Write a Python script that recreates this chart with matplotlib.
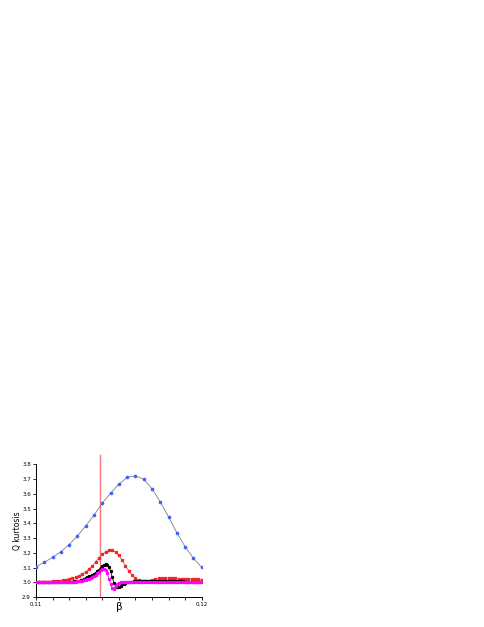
import numpy as np
import matplotlib.pyplot as plt
from matplotlib.ticker import MultipleLocator

# beta grids
beta_blue = np.linspace(0.110, 0.120, 21)
beta_red = np.linspace(0.110, 0.120, 51)
beta_fine = np.linspace(0.110, 0.120, 101)

blue = [3.105, 3.135, 3.169, 3.207, 3.255, 3.314, 3.381, 3.456, 3.537, 3.603,
        3.666, 3.711, 3.722, 3.698, 3.634, 3.546, 3.444, 3.336, 3.241, 3.162,
        3.101]

red = [3.002, 3.003, 3.003, 3.004, 3.005, 3.006, 3.008, 3.011, 3.014, 3.018,
       3.022, 3.028, 3.035, 3.044, 3.056, 3.071, 3.089, 3.111, 3.138, 3.166,
       3.190, 3.207, 3.217, 3.217, 3.204, 3.182, 3.150, 3.112, 3.077, 3.048,
       3.027, 3.013, 3.007, 3.006, 3.009, 3.015, 3.021, 3.026, 3.028, 3.029,
       3.028, 3.027, 3.026, 3.025, 3.024, 3.023, 3.022, 3.021, 3.020, 3.019,
       3.018]

black = [3.000, 3.000, 3.000, 3.000, 3.000, 3.001, 3.001, 3.001, 3.001, 3.001,
         3.001, 3.001, 3.001, 3.002, 3.002, 3.002, 3.002, 3.003, 3.003, 3.003,
         3.004, 3.004, 3.005, 3.006, 3.007, 3.008, 3.010, 3.013, 3.017, 3.022,
         3.028, 3.034, 3.040, 3.045, 3.051, 3.058, 3.065, 3.074, 3.086, 3.097,
         3.110, 3.118, 3.122, 3.117, 3.104, 3.075, 3.035, 2.995, 2.973, 2.966,
         2.967, 2.975, 2.985, 2.991, 2.995, 2.999, 3.002, 3.004, 3.005, 3.006,
         3.007, 3.007, 3.007, 3.007, 3.007, 3.007, 3.008, 3.008, 3.008, 3.008,
         3.008, 3.008, 3.008, 3.008, 3.007, 3.007, 3.007, 3.007, 3.007, 3.006,
         3.006, 3.006, 3.006, 3.006, 3.006, 3.006, 3.006, 3.006, 3.006, 3.006,
         3.005, 3.005, 3.005, 3.005, 3.005, 3.005, 3.005, 3.005, 3.005, 3.005,
         3.005]

magenta = [3.000, 3.000, 3.000, 3.000, 3.000, 3.000, 3.000, 3.000, 3.000, 3.000,
           3.000, 3.000, 3.000, 3.000, 3.001, 3.001, 3.001, 3.001, 3.002, 3.002,
           3.002, 3.003, 3.003, 3.004, 3.005, 3.006, 3.007, 3.009, 3.011, 3.013,
           3.016, 3.019, 3.023, 3.028, 3.034, 3.041, 3.050, 3.060, 3.073, 3.082,
           3.087, 3.088, 3.080, 3.060, 3.025, 2.985, 2.958, 2.956, 2.975, 2.990,
           2.997, 2.999, 3.000, 3.000, 3.000, 3.000, 3.000, 3.000, 3.000, 3.000,
           3.000, 3.000, 3.000, 3.000, 3.000, 3.000, 3.000, 3.000, 3.000, 3.000,
           3.000, 3.000, 3.000, 3.000, 3.000, 3.000, 3.000, 3.000, 3.000, 3.000,
           3.000, 3.000, 3.000, 3.000, 3.000, 3.000, 3.000, 3.000, 3.000, 3.000,
           3.000, 3.000, 3.000, 3.000, 3.000, 3.000, 3.000, 3.000, 3.000, 3.000,
           3.000]

beta_c = 0.11389

fig = plt.figure(figsize=(4.85, 6.27), dpi=100)
ax = fig.add_axes([0.0742, 0.0478, 0.3417, 0.2117])

ax.plot(beta_blue, blue, color="#808080", lw=0.6, marker="o", ms=1.6,
        mfc="#4060ff", mec="#4060ff", zorder=3)
ax.plot(beta_red, red, color="#808080", lw=0.6, marker="s", ms=1.4,
        mfc="#ff2020", mec="#ff2020", zorder=3)
ax.plot(beta_fine, black, color="black", lw=0.6, marker="s", ms=1.3,
        mfc="black", mec="black", zorder=4)
ax.plot(beta_fine, magenta, color="#ff00ff", lw=0.6, marker="s", ms=1.3,
        mfc="#ff00ff", mec="#ff00ff", zorder=5)

ax.plot([beta_c, beta_c], [2.9, 3.863], color="#f07878", lw=1.0,
        clip_on=False, zorder=2)

ax.set_xlim(0.110, 0.120)
ax.set_ylim(2.9, 3.8)
ax.set_xticks([0.11, 0.12])
ax.set_xticklabels(["0.11", "0.12"])
ax.xaxis.set_minor_locator(MultipleLocator(0.001))
ax.set_yticks(np.arange(2.9, 3.81, 0.1))
ax.set_yticklabels(["%.1f" % v for v in np.arange(2.9, 3.81, 0.1)])

ax.tick_params(axis="both", which="both", direction="out", labelsize=4,
               length=2.2, width=0.6, pad=1.5)
ax.tick_params(axis="x", which="minor", length=2.2)

for s in ["top", "right"]:
    ax.spines[s].set_visible(False)
for s in ["left", "bottom"]:
    ax.spines[s].set_linewidth(0.7)

ax.set_xlabel("β", fontsize=7.5, labelpad=-4)
ax.set_ylabel("Q kurtosis", fontsize=5.5, labelpad=0)

plt.savefig("out.png", dpi=100)
